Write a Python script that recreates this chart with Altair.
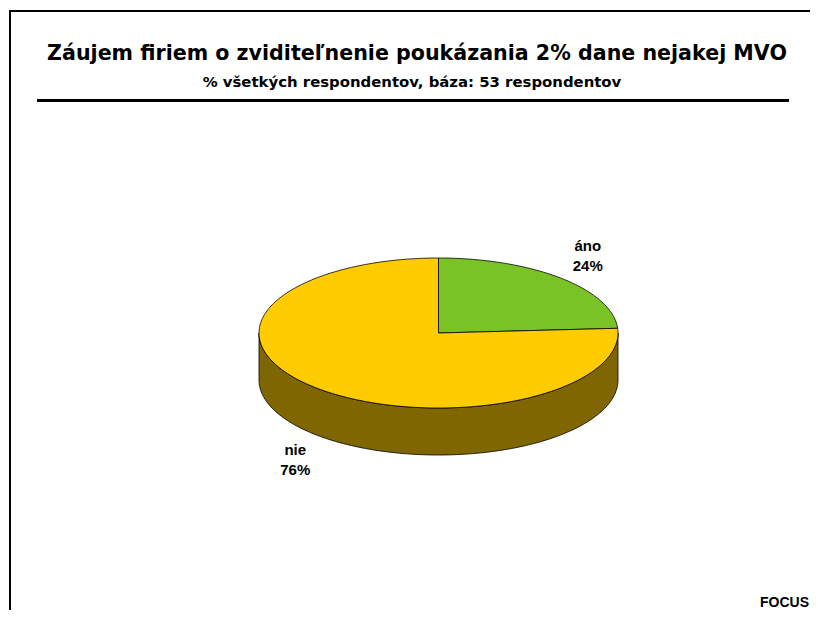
import math
import pandas as pd
import altair as alt

# ---- data ----
categories = ["áno", "nie"]
values = [24, 76]
top_colors = ["#79C326", "#FFCC00"]
side_colors = ["#3D6213", "#806600"]
title_text = "Záujem firiem o zviditeľnenie poukázania 2% dane nejakej MVO"
subtitle_text = "% všetkých respondentov, báza: 53 respondentov"
source_text = "FOCUS"

# ---- layout (pixels in the plot area) ----
W, H = 802, 602
CX, CY, A, B, DEPTH = 430.5, 325.0, 179.5, 75.0, 47.0
LABEL_K, LABEL_OFF, LABEL_SHIFT_Y, LABEL_SHIFT_X = 1.19, 13.5, -8.5, 3.0

total = float(sum(values))
tops, sides, labels = [], [], []
start = 90.0
for i, (cat, v) in enumerate(zip(categories, values)):
    sweep = 360.0 * v / total
    end = start - sweep
    # top face
    n = max(2, int(math.ceil(sweep)))
    pts = [(CX, CY)]
    for k in range(n + 1):
        t = math.radians(start - sweep * k / n)
        pts.append((CX + A * math.cos(t), CY - B * math.sin(t)))
    for j, (x, y) in enumerate(pts):
        tops.append(dict(pid=cat, ord=j, px=x, py=y, fillc=top_colors[i]))
    # visible side wall (front half of the ellipse)
    for m in (-1, 0, 1):
        lo = max(end, -180.0 + 360.0 * m)
        hi = min(start, 360.0 * m)
        if hi - lo > 0.01:
            nn = max(2, int(math.ceil(hi - lo)))
            arc = [math.radians(hi - (hi - lo) * k / nn) for k in range(nn + 1)]
            ring = [(CX + A * math.cos(t), CY - B * math.sin(t)) for t in arc]
            ring += [(CX + A * math.cos(t), CY - B * math.sin(t) + DEPTH) for t in reversed(arc)]
            for j, (x, y) in enumerate(ring):
                sides.append(dict(pid=f"{cat}_{m}", ord=j, px=x, py=y, fillc=side_colors[i]))
    mid = math.radians(start - sweep / 2)
    s = math.sin(mid)
    lx = CX + LABEL_K * A * math.cos(mid) + LABEL_SHIFT_X
    ly = (CY - LABEL_K * B * s + (DEPTH if s < 0 else 0.0)
          - LABEL_OFF * (1 if s > 0 else -1) + LABEL_SHIFT_Y)
    labels.append(dict(px=lx, py=ly, text=f"{cat}\n{v}%"))
    start = end

df_tops = pd.DataFrame(tops)
df_sides = pd.DataFrame(sides)
df_labels = pd.DataFrame(labels)

xs = alt.Scale(domain=[0, W], nice=False, zero=False)
ys = alt.Scale(domain=[0, H], nice=False, zero=False, reverse=True)
X = alt.X("px:Q", scale=xs, axis=None)
Y = alt.Y("py:Q", scale=ys, axis=None)

side_layer = alt.Chart(df_sides).mark_line(
    interpolate="linear-closed", stroke="black", strokeWidth=0.8, strokeJoin="round"
).encode(x=X, y=Y, order="ord:Q", detail="pid:N", fill=alt.Fill("fillc:N", scale=None))

top_layer = alt.Chart(df_tops).mark_line(
    interpolate="linear-closed", stroke="black", strokeWidth=0.8, strokeJoin="round"
).encode(x=X, y=Y, order="ord:Q", detail="pid:N", fill=alt.Fill("fillc:N", scale=None))

label_layer = alt.Chart(df_labels).mark_text(
    font="Liberation Sans", fontWeight="bold", fontSize=15, lineBreak="\n",
    lineHeight=20, align="center", baseline="middle", color="black"
).encode(x=X, y=Y, text="text:N")

one = pd.DataFrame({"t": [title_text], "s": [subtitle_text], "f": [source_text]})

title_layer = alt.Chart(one).mark_text(
    font="DejaVu Sans", fontWeight="bold", fontSize=20.6, align="center",
    baseline="alphabetic", color="black"
).encode(x=alt.value(409), y=alt.value(51.5), text="t:N")

subtitle_layer = alt.Chart(one).mark_text(
    font="DejaVu Sans", fontWeight="bold", fontSize=14.9, align="center",
    baseline="alphabetic", color="black"
).encode(x=alt.value(404), y=alt.value(79), text="s:N")

source_layer = alt.Chart(one).mark_text(
    font="Liberation Sans", fontWeight="bold", fontSize=14, align="right",
    baseline="alphabetic", color="black"
).encode(x=alt.value(W - 1), y=alt.value(599), text="f:N")

rule_under_title = alt.Chart(one).mark_rect(color="black").encode(
    x=alt.value(29), x2=alt.value(781), y=alt.value(91), y2=alt.value(94))
border_top = alt.Chart(one).mark_rect(color="black").encode(
    x=alt.value(1), x2=alt.value(W + 40), y=alt.value(2), y2=alt.value(4))
border_left = alt.Chart(one).mark_rect(color="black").encode(
    x=alt.value(1), x2=alt.value(3), y=alt.value(2), y2=alt.value(H + 40))

chart = alt.layer(
    side_layer, top_layer, label_layer, title_layer, subtitle_layer,
    source_layer, rule_under_title, border_top, border_left
).properties(
    width=W, height=H, padding=0, autosize=alt.AutoSizeParams(type="none"),
    background="white"
).configure_view(stroke=None)

chart.save("out.html", embed_options={"renderer": "svg", "actions": False})
